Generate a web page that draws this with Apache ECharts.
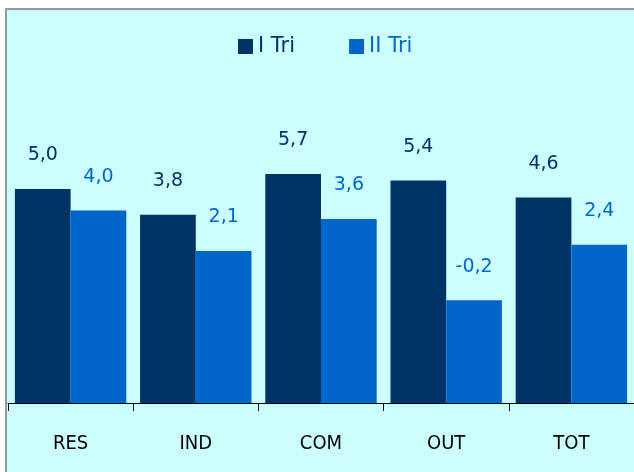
<!DOCTYPE html>
<html>
<head>
<meta charset="utf-8">
<script src="https://cdn.jsdelivr.net/npm/echarts@6/dist/echarts.min.js"></script>
<style>
  html, body { margin: 0; padding: 0; background: #ffffff; }
  #chart { width: 634px; height: 472px; }
</style>
</head>
<body>
<div id="chart"></div>
<script>
const categories = ['RES', 'IND', 'COM', 'OUT', 'TOT'];
const seriesNames = ['I Tri', 'II Tri'];
const triOne = [5.0, 3.8, 5.7, 5.4, 4.6];
const triTwo = [4.0, 2.1, 3.6, -0.2, 2.4];
const colors = ['#003366', '#0066cc'];

const font = "'DejaVu Sans', sans-serif";
const narrowFont = "'DejaVu Sans Condensed', 'DejaVu Sans', sans-serif";

function fmt(p) {
    return p.value.toFixed(1).replace('.', ',');
}

function makeSeries(name, data, color) {
    return {
        name: name,
        type: 'bar',
        data: data,
        barGap: '0%',
        barCategoryGap: '11%',
        itemStyle: { color: color },
        label: {
            show: true,
            position: 'top',
            distance: 24,
            color: color,
            fontFamily: font,
            fontSize: 19,
            formatter: fmt
        }
    };
}

const chart = echarts.init(document.getElementById('chart'));
chart.setOption({
    animation: false,
    graphic: [{
        type: 'rect',
        z: -10,
        shape: { x: 6, y: 9, width: 700, height: 600 },
        style: { fill: '#ccffff', stroke: '#999999', lineWidth: 2 }
    }],
    legend: {
        top: 31,
        left: 233,
        itemWidth: 15,
        itemHeight: 15,
        itemGap: 54,
        icon: 'rect',
        data: seriesNames.map((n, i) => ({ name: n, textStyle: { color: colors[i] } })),
        textStyle: { fontFamily: font, fontSize: 21 }
    },
    grid: { left: 8, right: 0, top: 82, bottom: 69 },
    xAxis: {
        type: 'category',
        data: categories,
        axisLine: { show: true, onZero: false, lineStyle: { color: '#000000', width: 1 } },
        axisTick: { show: true, inside: false, length: 8, lineStyle: { color: '#000000', width: 1 } },
        axisLabel: { color: '#000000', fontFamily: narrowFont, fontSize: 20, margin: 31 }
    },
    yAxis: {
        type: 'value',
        min: -5,
        max: 10,
        startValue: -5,
        show: false,
        splitLine: { show: false }
    },
    series: [
        makeSeries(seriesNames[0], triOne, colors[0]),
        makeSeries(seriesNames[1], triTwo, colors[1])
    ]
});
</script>
</body>
</html>
